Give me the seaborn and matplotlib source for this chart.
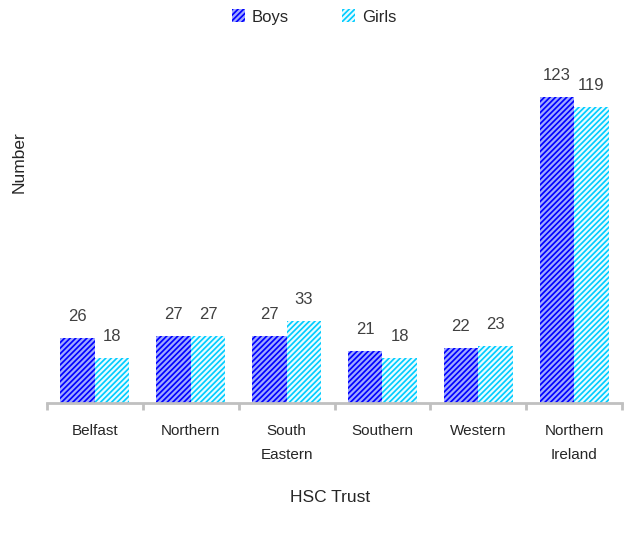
import matplotlib
matplotlib.use("Agg")
import matplotlib.pyplot as plt
import numpy as np
import pandas as pd
import seaborn as sns

trusts = ["Belfast", "Northern", "South\nEastern", "Southern", "Western", "Northern\nIreland"]
boys = [26, 27, 27, 21, 22, 123]
girls = [18, 27, 33, 18, 23, 119]
groups = ["Boys", "Girls"]

face_colors = {"Boys": "#0000ff", "Girls": "#00ccff"}
hatch_colors = {"Boys": "#9fa8ff", "Girls": "#e8fbff"}

df = pd.DataFrame({
    "trust": trusts * 2,
    "group": ["Boys"] * len(trusts) + ["Girls"] * len(trusts),
    "value": boys + girls,
})

sns.set_style("white")
plt.rcParams["font.family"] = ["Liberation Sans", "DejaVu Sans"]
plt.rcParams["hatch.linewidth"] = 1.6

fig = plt.figure(figsize=(6.32, 5.4), dpi=100)
ax = fig.add_axes([47 / 632, 1 - 403 / 540, 575 / 632, 343 / 540])

sns.barplot(data=df, x="trust", y="value", hue="group", order=trusts,
            hue_order=groups, palette=face_colors, width=0.72, ax=ax,
            legend=False, saturation=1)

for container, g in zip(ax.containers, groups):
    for bar in container:
        bar.set_hatch("//////")
        bar.set_edgecolor(hatch_colors[g])
        bar.set_linewidth(0)
    ax.bar_label(container, padding=10, fontsize=12, color="#404040")

ax.set_ylim(0, 343 / 2.49)
ax.set_xlim(-0.5, len(trusts) - 0.5)

# boundary ticks on the baseline, labels at the category centres
ax.set_xticks(np.arange(len(trusts) + 1) - 0.5)
ax.set_xticklabels([])
ax.set_xticks(np.arange(len(trusts)), minor=True)
ax.set_xticklabels(trusts, minor=True, fontsize=11, linespacing=1.9)
ax.tick_params(axis="x", which="major", length=5, width=2, color="#c0c0c0",
               direction="out", bottom=True)
ax.tick_params(axis="x", which="minor", length=0, pad=15)
ax.set_yticks([])

for s in ["left", "top", "right"]:
    ax.spines[s].set_visible(False)
ax.spines["bottom"].set_color("#c0c0c0")
ax.spines["bottom"].set_linewidth(2)

ax.set_xlabel("")
ax.set_ylabel("Number", fontsize=12.5)
ax.yaxis.set_label_coords(-20 / 575, (403 - 162) / 343)
fig.text(330 / 632, 1 - 497 / 540, "HSC Trust", ha="center", va="center",
         fontsize=12.5)

handles = [plt.Rectangle((0, 0), 1, 1, facecolor=face_colors[g],
                         edgecolor=hatch_colors[g], linewidth=0,
                         hatch="//////") for g in groups]
fig.legend(handles, groups, loc="center", bbox_to_anchor=(314 / 632, 1 - 17 / 540),
           ncol=2, frameon=False, fontsize=12, handlelength=0.8,
           handleheight=0.8, handletextpad=0.4, columnspacing=3.2)

fig.savefig("out.png", dpi=100)
